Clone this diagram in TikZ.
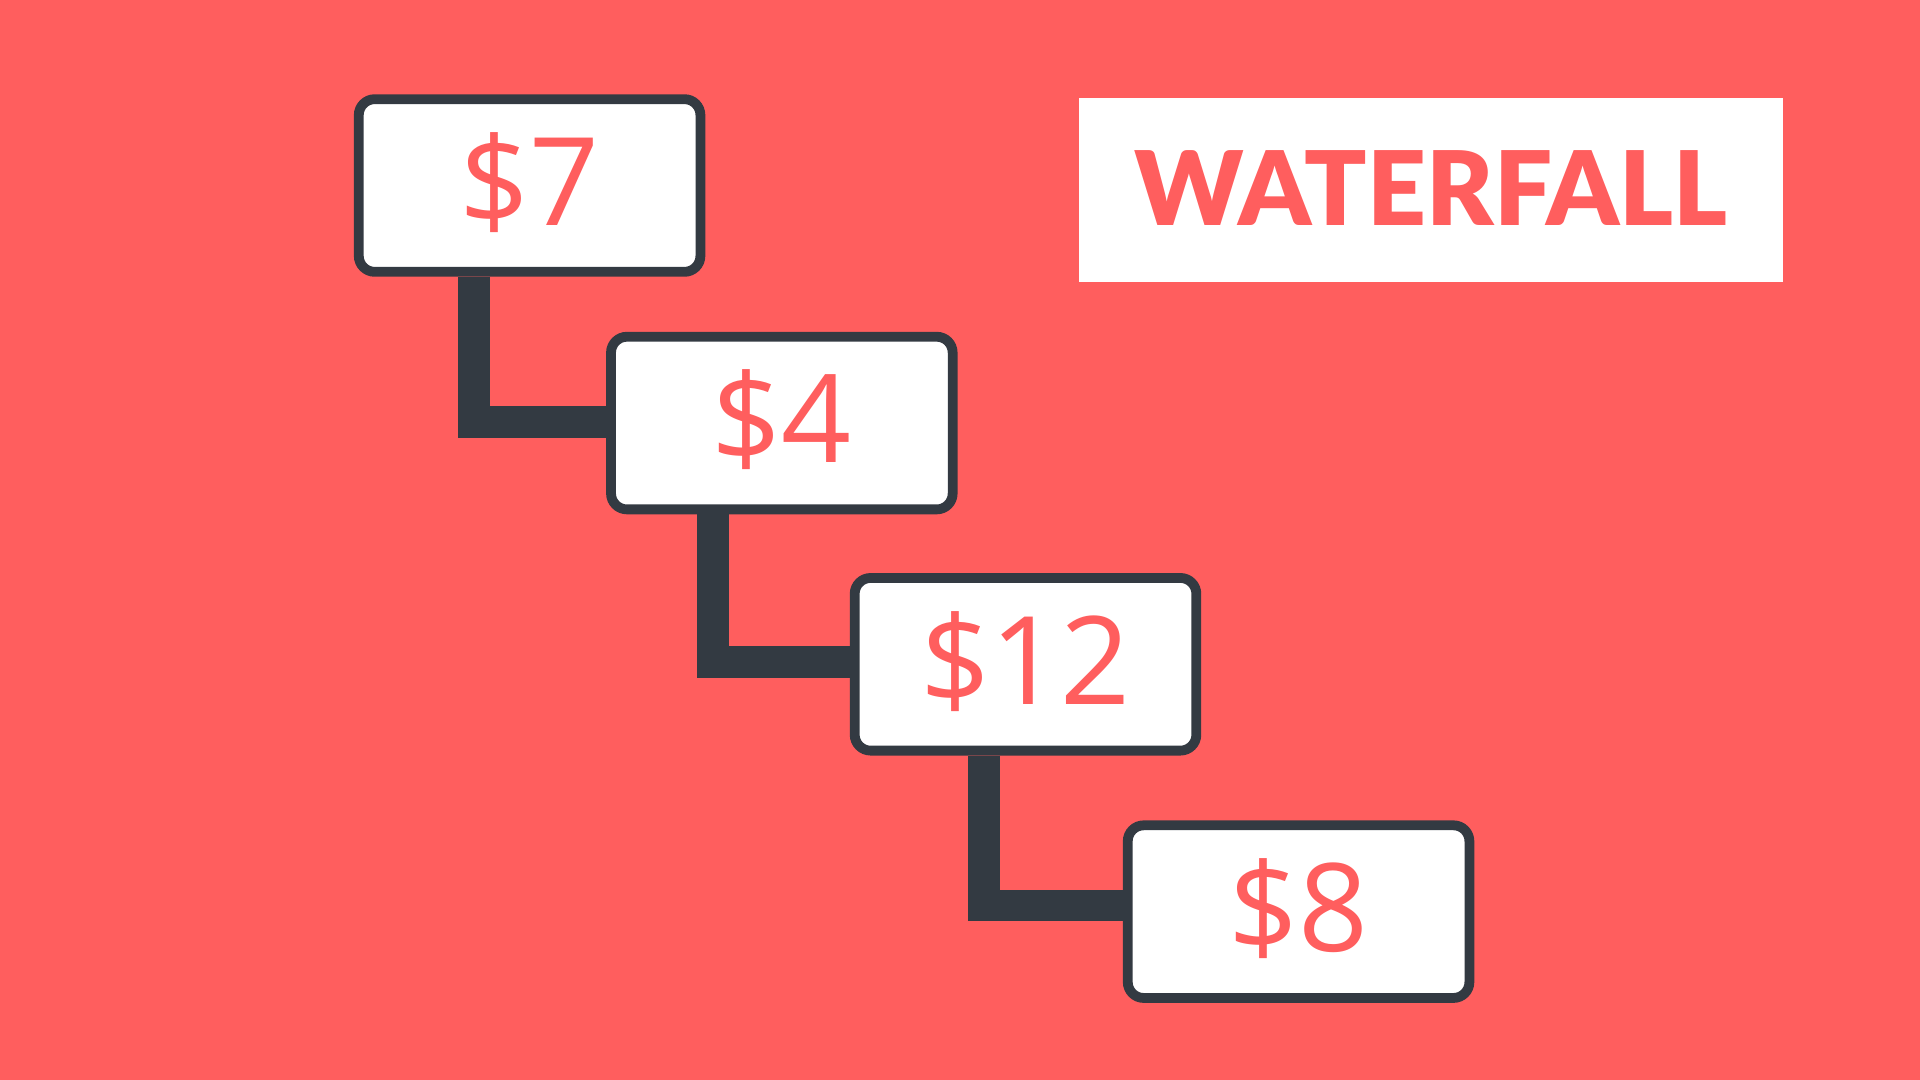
\documentclass[tikz,border=0pt]{standalone}
\usepackage{fontspec}
\setmainfont{Open Sans}
\newfontfamily\titlefont{Lato Black}
\definecolor{coral}{HTML}{FF5E5E}
\definecolor{slate}{HTML}{333A42}
\tikzset{
  price/.style={draw=slate, line width=8pt, fill=white, rounded corners=13pt,
    minimum width=279pt, minimum height=141pt, inner sep=0pt, text=coral,
    font=\fontsize{100}{100}\selectfont, text height=65pt, text depth=0pt},
  stem/.style={draw=slate, line width=26pt},
  banner/.style={fill=white, minimum width=575pt, minimum height=150pt, inner sep=0pt,
    text=coral, font=\fontsize{84}{84}\titlefont, text height=59pt, text depth=0pt}
}
\begin{document}
\begin{tikzpicture}[x=1pt, y=-1pt]
\fill[coral] (0,0) rectangle (1568,882);
\useasboundingbox (0,0) rectangle (1568,882);
\node[banner] (4) at (1168.5, 155) {WATERFALL};
\node[price] (0) at (432.5, 151.5) {\$7};
\node[price] (1) at (638.5, 345.5) {\$4};
\node[price] (2) at (837.5, 542.5) {\$12};
\node[price] (3) at (1060.5, 744.5) {\$8};
\draw[stem] ([xshift=-45.5pt]0.south) |- ([yshift=1pt]1.west);
\draw[stem] ([xshift=-56pt]1.south) |- ([yshift=2pt]2.west);
\draw[stem] ([xshift=-34pt]2.south) |- ([yshift=5pt]3.west);
\end{tikzpicture}
\end{document}
